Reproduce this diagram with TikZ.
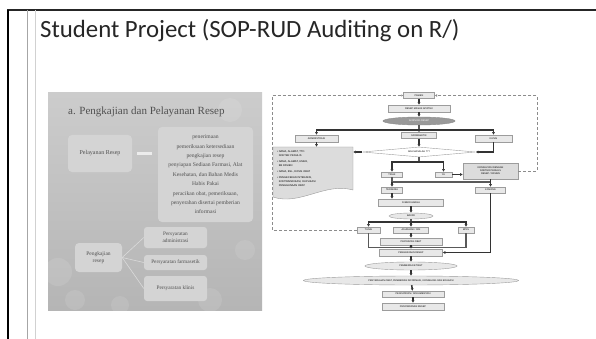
\documentclass[tikz,border=0pt]{standalone}
\usepackage{fontspec}
\setmainfont{Liberation Serif}
\newfontfamily\slidesans{Carlito}
\newfontfamily\flowsans{Liberation Sans}
\usetikzlibrary{shapes.geometric,arrows.meta}
\definecolor{slidegray}{HTML}{B5B5B5}
\definecolor{boxgray}{HTML}{D4D4D4}
\definecolor{inkgray}{HTML}{505050}
\definecolor{flowfill}{HTML}{E8E8E8}
\definecolor{flowline}{HTML}{9C9C9C}
\definecolor{notefill}{HTML}{DCDCDC}

\begin{document}
\begin{tikzpicture}[x=1pt,y=-1pt,
  fbox/.style={draw=flowline, fill=flowfill, inner sep=0pt, font=\flowsans\fontsize{2.4}{2.9}\selectfont, align=center},
  fell/.style={fbox, ellipse},
  farr/.style={-{Latex[length=2.6pt,width=3pt]}, line width=1.5pt, draw=black!80},
  fbar/.style={line width=1.5pt, draw=black!65},
  fdash/.style={dash pattern=on 3pt off 2pt, draw=black!45, line width=0.6pt},
  sbox/.style={fill=boxgray, rounded corners=4pt, inner sep=0pt, text=inkgray, align=center},
  sline/.style={draw=boxgray!85!white, line width=0.6pt}
]
\useasboundingbox (0,0) rectangle (596,339);
\fill[white] (0,0) rectangle (596,339);

% slide frame and title
\draw[black!85, line width=1.2pt] (7,10) -- (596,10);
\draw[black, line width=2.2pt] (8,10) -- (8,339);
\draw[black!35, line width=0.8pt] (27,10) -- (27,339);
\draw[black!18, line width=0.8pt] (35.5,10) -- (35.5,339);
\node[anchor=base west, inner sep=0pt, font=\slidesans\fontsize{24.8}{28}\selectfont, text=black!85] (judul) at (40,38) {Student Project (SOP-RUD Auditing on R/)};

% left picture: pengkajian dan pelayanan resep
\shade[top color=black!20, bottom color=slidegray] (48,93) rectangle (262,310);
\foreach \cx/\cy/\r in {58/272/14, 75/300/10, 120/305/9, 210/300/12, 245/250/10, 230/110/12} {
  \fill[white, opacity=0.1] (\cx,\cy) circle (\r);
}
\node[anchor=base west, inner sep=0pt, text=inkgray, font=\fontsize{11}{12}\selectfont] (stitle) at (68,115) {a. Pengkajian dan Pelayanan Resep};
\node[sbox, minimum width=64pt, minimum height=37pt, font=\fontsize{6}{7}\selectfont] (pelayanan) at (100,153.5) {Pelayanan Resep};
\node[sbox, minimum width=95pt, minimum height=95pt, font=\fontsize{5.6}{9.4}\selectfont] (tahap) at (205.5,174.5) {penerimaan\\ pemeriksaan ketersediaan\\ pengkajian resep\\ penyiapan Sediaan Farmasi, Alat\\ Kesehatan, dan Bahan Medis\\ Habis Pakai\\ peracikan obat, pemeriksaan,\\ penyerahan disertai pemberian\\ informasi};
\draw[line width=3pt, draw=white!85!gray] ([xshift=5pt]pelayanan.east) -- ([xshift=-6pt]tahap.west |- pelayanan.east);
\node[sbox, minimum width=47pt, minimum height=29pt, font=\fontsize{5.5}{7}\selectfont] (pengkajian) at (98.5,257.5) {Pengkajian\\ resep};
\node[sbox, rounded corners=3pt, minimum width=63pt, minimum height=21pt, font=\fontsize{5.3}{6.8}\selectfont] (adm) at (175.5,237.5) {Persyaratan\\ administrasi};
\node[sbox, rounded corners=3pt, minimum width=63pt, minimum height=15pt, font=\fontsize{5.3}{6.8}\selectfont] (farmasi) at (175.5,262.5) {Persyaratan farmasetik};
\node[sbox, rounded corners=3pt, minimum width=63pt, minimum height=25pt, font=\fontsize{5.3}{6.8}\selectfont] (klin) at (175.5,288.5) {Persyaratan klinis};
\foreach \t in {adm,farmasi,klin} \draw[sline] (pengkajian.east) -- (\t.west);

% right picture: alur pelayanan resep
\filldraw[draw=flowline, fill=notefill] (273,147) -- (353,147) -- (353,190) .. controls (325,182) and (300,206) .. (273,197) -- cycle;
\node[fbox, draw=none, fill=none, align=left, text width=72pt, minimum width=80pt, minimum height=43pt, font=\flowsans\fontsize{2.6}{4.2}\selectfont] (catatan) at (313,168.5) {\textbullet~NAMA, ALAMAT, TTD\\ \phantom{\textbullet~}DOKTER PENULIS\\[1.6pt] \textbullet~NAMA, ALAMAT, UMUR,\\ \phantom{\textbullet~}BB PASIEN\\[1.6pt] \textbullet~NAMA, BSL, DOSIS OBAT\\[1.6pt] \textbullet~PENGECEKAN INTERAKSI,\\ \phantom{\textbullet~}KONTRAINDIKASI, DUPLIKASI\\ \phantom{\textbullet~}PENGGUNAAN OBAT};
\node[fbox, minimum width=31pt, minimum height=6pt] (pasien) at (419,95.5) {PASIEN};
\node[fbox, minimum width=62pt, minimum height=7pt] (masuk) at (419,108.5) {RESEP MASUK APOTEK};
\node[fell, fill=black!40, draw=black!45, text=white, minimum width=72pt, minimum height=8pt] (skrining) at (419,121) {SKRINING RESEP};
\node[fbox, minimum width=43pt, minimum height=7pt] (admin) at (316.5,138.5) {ADMINISTRASI};
\node[fbox, minimum width=35pt, minimum height=6pt] (farm) at (419,135.5) {FARMASETIK};
\node[fbox, minimum width=37pt, minimum height=7pt] (klinis) at (493.5,138.5) {KLINIS};
\node[fbox, diamond, aspect=11, fill=white, minimum width=113pt, minimum height=10pt] (masalah) at (419,152) {ADA MASALAH ???};
\node[fbox, minimum width=21pt, minimum height=5pt] (tidak) at (392,174.5) {TIDAK};
\node[fbox, minimum width=17pt, minimum height=5pt] (ya) at (443.5,174.5) {YA};
\node[fbox, fill=notefill, minimum width=55pt, minimum height=16pt] (konsul) at (490.5,171) {KONSULTASI DENGAN\\ DOKTER PENULIS\\ RESEP / PASIEN};
\node[fbox, minimum width=21pt, minimum height=6pt] (tersedia) at (392,190) {TERSEDIA};
\node[fbox, minimum width=30pt, minimum height=6pt] (kosong) at (490.5,190) {KOSONG};
\node[fbox, minimum width=65pt, minimum height=7pt] (harga) at (411,202.5) {DI BERI HARGA};
\node[fell, minimum width=44pt, minimum height=6pt] (bayar) at (411,216) {BAYAR};
\node[fbox, minimum width=23pt, minimum height=6pt] (tunai) at (368.5,230) {TUNAI};
\node[fbox, minimum width=35pt, minimum height=6pt] (asuransi) at (411,230) {ASURANSI / JKN};
\node[fbox, minimum width=16pt, minimum height=6pt] (bpjs) at (466,230) {BPJS};
\node[fbox, minimum width=62pt, minimum height=7pt] (racik) at (411,241.5) {PENYIAPAN OBAT};
\node[fbox, minimum width=63pt, minimum height=7pt] (resep) at (411,252.5) {PENGERJAAN RESEP};
\node[fell, minimum width=92pt, minimum height=8pt] (etiket) at (411,266) {PEMBERIAN ETIKET};
\node[fell, minimum width=215pt, minimum height=9pt] (serah) at (411,280.5) {PENYERAHAN OBAT, PEMBERIAN INFORMASI, KONSELING DAN EDUKASI};
\node[fbox, minimum width=62pt, minimum height=6pt] (arsip) at (413,294) {PENCATATAN / DOKUMENTASI};
\node[fbox, minimum width=62pt, minimum height=7pt] (simpan) at (413,306.5) {PENYIMPANAN RESEP};

\coordinate (cab) at (419,130);
\coordinate (cmas) at (419,162);
\coordinate (cstok) at (392,182);
\coordinate (cbay) at (411,222);
\coordinate (cgab) at (411,247.5);
\coordinate (dtl) at (272,95.5);
\coordinate (dtr) at (537,95.5);

\draw[farr] (pasien) -- (masuk);
\draw[farr] (masuk) -- (skrining);
\draw[fbar] (skrining) -- (cab);
\draw[farr] (cab) -| (admin);
\draw[farr] (cab) -| (klinis);
\draw[farr] (cab) -- (farm);
\draw[farr] (farm) -- (masalah);
\draw[farr] (admin) -- (admin |- catatan.north);
\draw[farr] (masalah.west) -- (masalah.west -| catatan.east);
\draw[farr] (klinis.south) |- (masalah.east);
\draw[fbar] (masalah.south) -- (cmas);
\draw[farr] (cmas) -| (tidak);
\draw[farr] (cmas) -| (ya);
\draw[farr] (ya) -- (ya -| konsul.west);
\draw[fbar] (tidak) -- (cstok);
\draw[fbar] (cstok) -| (konsul);
\draw[farr] (cstok) -- (tersedia);
\draw[farr] (konsul) -- (kosong);
\draw[farr] (tersedia) -- (tersedia |- harga.north);
\draw[farr] (harga) -- (bayar);
\draw[fbar] (bayar) -- (cbay);
\draw[farr] (cbay) -| (tunai);
\draw[farr] (cbay) -- (asuransi);
\draw[farr] (cbay) -| (bpjs);
\draw[farr] (asuransi) -- (racik);
\draw[fbar] (tunai.south) |- (cgab);
\draw[fbar] (bpjs.south) |- (cgab);
\draw[farr] (racik) -- (resep);
\draw[farr] (kosong.south) |- (resep.east);
\draw[farr] (resep) -- (etiket);
\draw[farr] (etiket) -- (serah);
\draw[farr] (serah) -- (arsip);
\draw[farr] (arsip) -- (simpan);
\draw[fdash, -{Latex[length=2pt,width=2.4pt]}] (tunai.west) -| (dtl) -- (pasien.west);
\draw[fdash, -{Latex[length=2.4pt,width=2.8pt]}] (konsul.east) -| (dtr) -- (pasien.east);
\end{tikzpicture}
\end{document}
